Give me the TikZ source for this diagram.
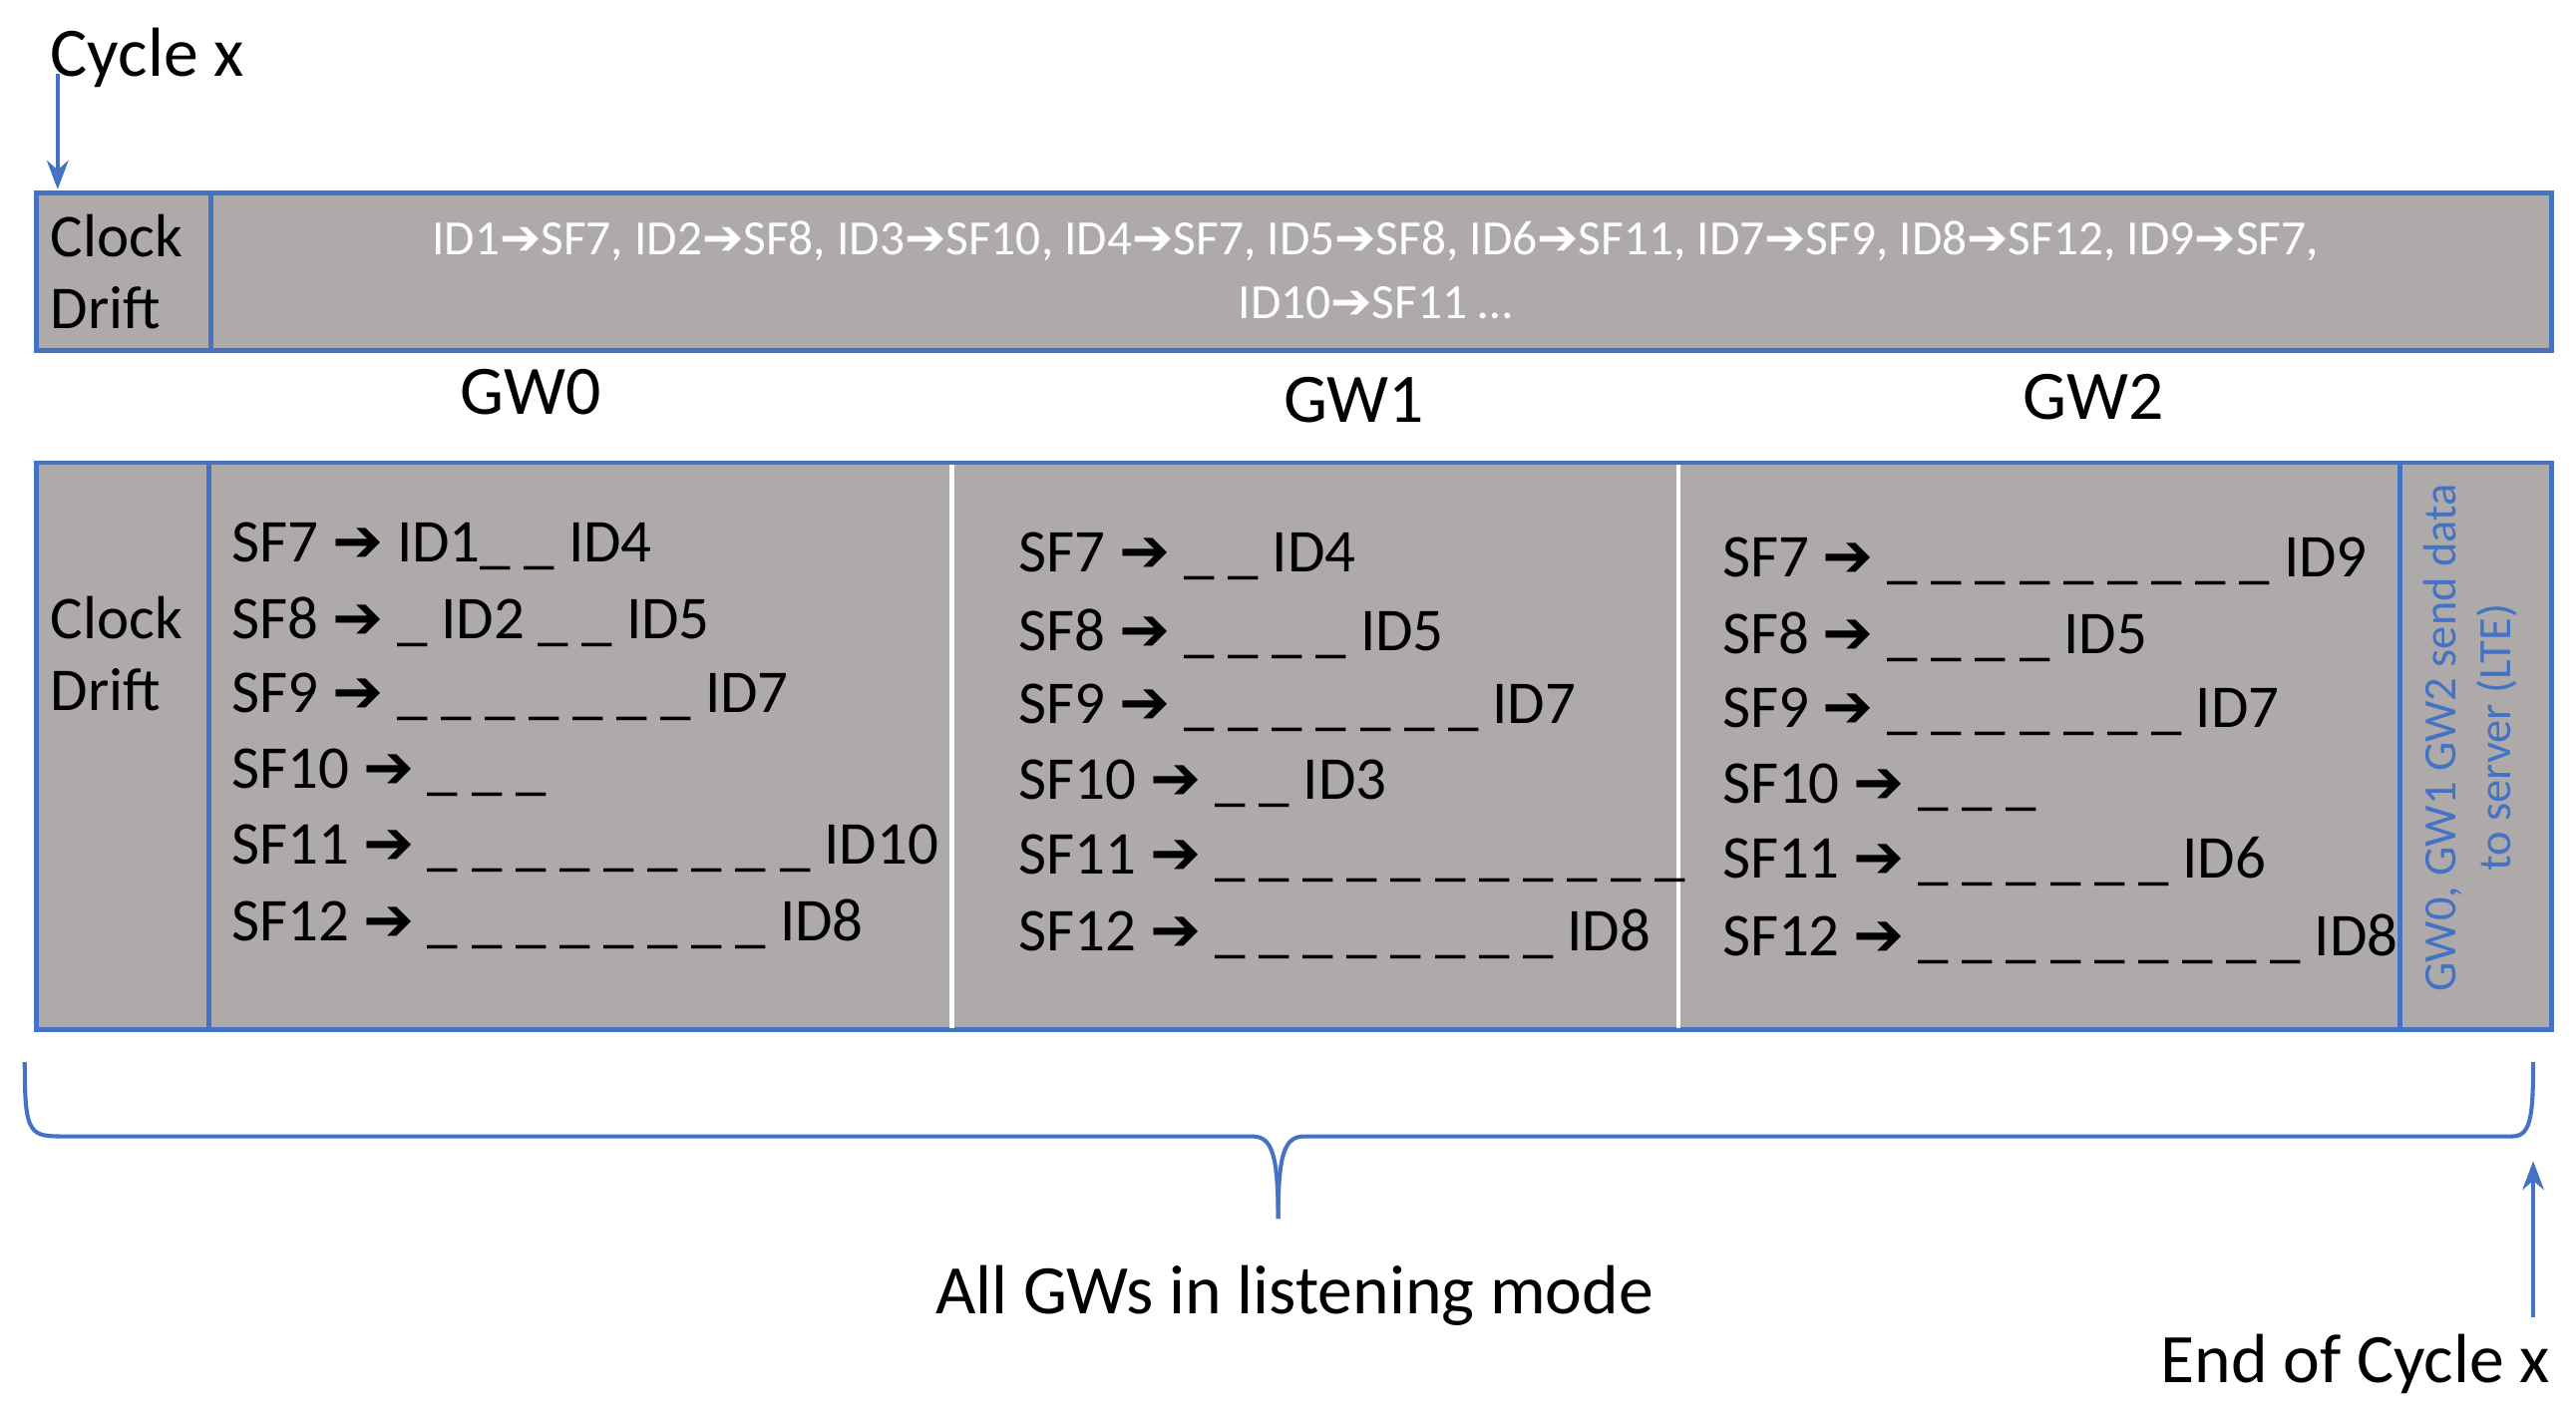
\documentclass[tikz,border=0pt]{standalone}
\usepackage{fontspec}
\usetikzlibrary{arrows.meta}
\setmainfont{Carlito}
\newfontfamily\sym{DejaVu Sans}
\definecolor{bx}{HTML}{AEAAA9}
\definecolor{bl}{HTML}{4472C4}
\newcommand{\ar}{{\sym ➔}}
\begin{document}
\begin{tikzpicture}[x=0.01cm,y=-0.01cm,
  ln/.style={anchor=west,font=\fontsize{10.5pt}{12pt}\selectfont,inner sep=0},
  lab/.style={font=\fontsize{12pt}{14pt}\selectfont,inner sep=0}]
\useasboundingbox (0,0) rectangle (1564,862);
% top box
\draw[bl,fill=bx,line width=0.8pt] (22,117) rectangle (1549,213);
\draw[bl,line width=0.8pt] (128,117) -- (128,213);
\node[anchor=west,align=left,font=\fontsize{10.5pt}{12.5pt}\selectfont,inner sep=0] (cd1) at (30,165) {Clock\\Drift};
\node[align=center,text=white,font=\fontsize{8.5pt}{11pt}\selectfont,inner sep=0] (ids) at (835,164)
 {ID1\ar SF7, ID2\ar SF8, ID3\ar SF10, ID4\ar SF7, ID5\ar SF8, ID6\ar SF11, ID7\ar SF9, ID8\ar SF12, ID9\ar SF7,\\ID10\ar SF11 \dots};
% labels
\node[lab,anchor=west] (cyc) at (30,35) {Cycle x};
\node[lab] (g0) at (322,238) {GW0};
\node[lab] (g1) at (822,243) {GW1};
\node[lab] (g2) at (1271,241) {GW2};
% lower box
\draw[bl,fill=bx,line width=0.8pt] (22,281) rectangle (1549,625);
\draw[bl,line width=0.8pt] (127,281) -- (127,625);
\draw[bl,line width=0.8pt] (1457,281) -- (1457,625);
\draw[white,line width=0.8pt] (578,282) -- (578,624);
\draw[white,line width=0.8pt] (1019,282) -- (1019,624);
\node[anchor=west,align=left,font=\fontsize{10.5pt}{12.5pt}\selectfont,inner sep=0] (cd2) at (30,397) {Clock\\Drift};
% GW0
\node[ln] (a1) at (140,332) {SF7 \ar\ ID1\_ \_ ID4};
\node[ln] (a2) at (140,378) {SF8 \ar\ \_ ID2 \_ \_ ID5};
\node[ln] (a3) at (140,423) {SF9 \ar\ \_ \_ \_ \_ \_ \_ \_ ID7};
\node[ln] (a4) at (140,469) {SF10 \ar\ \_ \_ \_};
\node[ln] (a5) at (140,515) {SF11 \ar\ \_ \_ \_ \_ \_ \_ \_ \_ \_ ID10};
\node[ln] (a6) at (140,561) {SF12 \ar\ \_ \_ \_ \_ \_ \_ \_ \_ ID8};
% GW1
\node[ln] (b1) at (618,338) {SF7 \ar\ \_ \_ ID4};
\node[ln] (b2) at (618,385) {SF8 \ar\ \_ \_ \_ \_ ID5};
\node[ln] (b3) at (618,430) {SF9 \ar\ \_ \_ \_ \_ \_ \_ \_ ID7};
\node[ln] (b4) at (618,476) {SF10 \ar\ \_ \_ ID3};
\node[ln] (b5) at (618,521) {SF11 \ar\ \_ \_ \_ \_ \_ \_ \_ \_ \_ \_ \_};
\node[ln] (b6) at (618,567) {SF12 \ar\ \_ \_ \_ \_ \_ \_ \_ \_ ID8};
% GW2
\node[ln] (c1) at (1045,341) {SF7 \ar\ \_ \_ \_ \_ \_ \_ \_ \_ \_ ID9};
\node[ln] (c2) at (1045,387) {SF8 \ar\ \_ \_ \_ \_ ID5};
\node[ln] (c3) at (1045,432) {SF9 \ar\ \_ \_ \_ \_ \_ \_ \_ ID7};
\node[ln] (c4) at (1045,478) {SF10 \ar\ \_ \_ \_};
\node[ln] (c5) at (1045,523) {SF11 \ar\ \_ \_ \_ \_ \_ \_ ID6};
\node[ln] (c6) at (1045,570) {SF12 \ar\ \_ \_ \_ \_ \_ \_ \_ \_ \_ ID8};
\node[rotate=90,align=center,text=bl,font=\fontsize{8pt}{9.5pt}\selectfont,inner sep=0] (lte) at (1500,448) {GW0, GW1 GW2 send data\\to server (LTE)};
% brace
\draw[bl,line width=0.7pt] (15,645) .. controls (15,690) and (18,690) .. (40,690) -- (760,690)
  .. controls (772,690) and (776,700) .. (776,740);
\draw[bl,line width=0.7pt] (776,740) .. controls (776,700) and (780,690) .. (792,690) -- (1525,690)
  .. controls (1536,690) and (1538,680) .. (1538,645);
\node[lab] (all) at (786,787) {All GWs in listening mode};
\node[lab,anchor=east] (end) at (1549,828) {End of Cycle x};
\coordinate (cs) at (35,45);
\coordinate (ce) at (35,115);
\draw[bl,line width=0.6pt,-{Stealth[length=5pt]}] (cs) -- (ce);
\coordinate (es) at (1538,800);
\coordinate (ee) at (1538,705);
\draw[bl,line width=0.6pt,-{Stealth[length=5pt]}] (es) -- (ee);
\end{tikzpicture}
\end{document}
